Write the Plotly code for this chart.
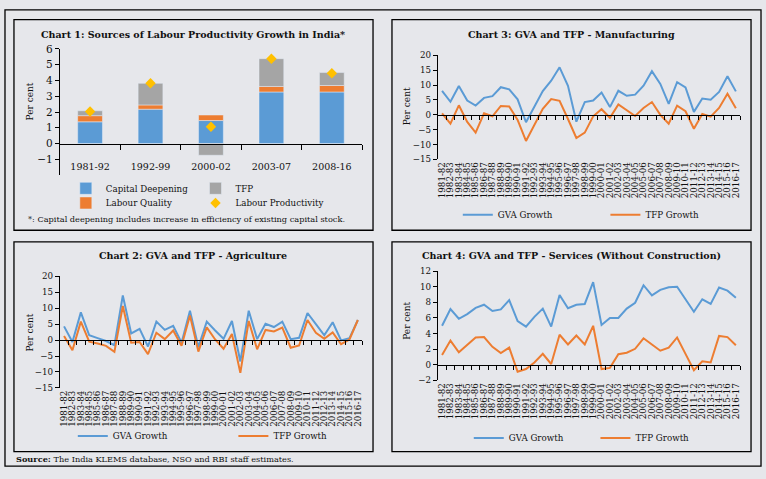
import plotly.graph_objects as go

W, H = 766, 479

# ---------------- data ----------------
periods = ["1981-92", "1992-99", "2000-02", "2003-07", "2008-16"]
capital_deepening = [1.38, 2.18, 1.46, 3.27, 3.27]
labour_quality = [0.39, 0.27, 0.35, 0.35, 0.41]
tfp_contribution = [0.31, 1.37, -0.74, 1.76, 0.82]
labour_productivity = [2.03, 3.82, 1.07, 5.38, 4.46]

years = ["1981-82", "1982-83", "1983-84", "1984-85", "1985-86", "1986-87",
         "1987-88", "1988-89", "1989-90", "1990-91", "1991-92", "1992-93",
         "1993-94", "1994-95", "1995-96", "1996-97", "1997-98", "1998-99",
         "1999-00", "2000-01", "2001-02", "2002-03", "2003-04", "2004-05",
         "2005-06", "2006-07", "2007-08", "2008-09", "2009-10", "2010-11",
         "2011-12", "2012-13", "2013-14", "2014-15", "2015-16", "2016-17"]

agri_gva = [4.3, -0.6, 8.7, 1.5, 0.6, -0.3, -1.6, 14.0, 2.1, 3.5, -2.0, 5.8,
            3.2, 4.5, -0.8, 9.2, -2.2, 5.8, 3.0, 0.4, 6.0, -6.7, 9.2, 0.3,
            5.1, 4.1, 5.8, 0.3, 0.7, 8.5, 5.0, 1.5, 5.6, -0.1, 0.6, 6.3]
agri_tfp = [1.3, -3.2, 5.8, -0.5, -1.1, -1.8, -3.7, 10.7, -0.8, -0.6, -4.4, 2.3,
            0.3, 3.0, -1.8, 7.7, -3.6, 4.0, 0.2, -2.7, 1.9, -10.3, 6.0, -2.9,
            3.2, 2.7, 3.9, -2.4, -1.7, 6.3, 2.3, 0.4, 2.4, -1.3, 0.2, 6.3]

mfg_gva = [8.1, 4.4, 9.7, 4.8, 3.1, 5.7, 6.3, 9.3, 8.6, 5.2, -2.5, 3.0,
           8.0, 11.5, 16.0, 9.8, -2.3, 4.3, 4.8, 7.5, 2.6, 8.1, 6.4, 6.8,
           9.8, 14.7, 10.4, 3.7, 11.0, 9.2, 1.0, 5.5, 5.1, 7.7, 13.0, 7.9]
mfg_tfp = [0.5, -3.0, 3.2, -2.4, -6.0, 0.5, -0.5, 3.0, 2.8, -1.7, -8.8, -3.5,
           2.0, 5.3, 4.7, -1.4, -7.8, -6.0, -0.5, 1.9, -1.0, 3.5, 1.4, -0.4,
           2.3, 4.3, 0.0, -3.0, 3.1, 1.2, -4.7, 0.3, -0.6, 2.3, 7.1, 2.2]

svc_gva = [5.0, 7.15, 5.9, 6.5, 7.3, 7.7, 6.9, 7.1, 8.3, 5.6, 4.9, 6.15,
           7.2, 4.9, 8.95, 7.25, 7.7, 7.8, 10.6, 5.1, 6.0, 6.0, 7.2, 7.95,
           10.2, 8.9, 9.6, 9.95, 10.0, 8.4, 6.8, 8.4, 7.8, 9.9, 9.5, 8.6]
svc_tfp = [1.25, 3.1, 1.6, 2.5, 3.5, 3.55, 2.3, 1.5, 2.2, -0.9, -0.55, 0.3,
           1.4, 0.1, 3.85, 2.6, 3.75, 2.6, 5.0, -0.55, -0.4, 1.35, 1.55, 2.05,
           3.4, 2.6, 1.8, 2.2, 3.5, 1.4, -0.7, 0.45, 0.3, 3.7, 3.55, 2.5]

# ---------------- style ----------------
BG = "#e6e7eb"
BLUE = "#5b9bd5"
ORANGE = "#ed7d31"
GREY = "#a5a5a5"
GOLD = "#ffc000"
FONT = "DejaVu Serif"
TXT = "#111111"


def pxx(p):
    return p / W


def pyy(p):
    return 1 - p / H


fig = go.Figure()
layout = {}
annotations = []
shapes = []

charts = [
    dict(i=1, x0=59, x1=362, ytop=44, ybot=173.5, yr=(-2, 6), dt=1, cats=periods,
         title="Chart 1: Sources of Labour Productivity Growth in India*", tc=(193, 29), pc=(29, 98)),
    dict(i=2, x0=438, x1=741, ytop=50.7, ybot=157.3, yr=(-15, 20), dt=5, cats=years,
         title="Chart 3: GVA and TFP - Manufacturing", tc=(572, 29), pc=(407, 103)),
    dict(i=3, x0=59, x1=362, ytop=277.3, ybot=391.7, yr=(-15, 20), dt=5, cats=years,
         title="Chart 2: GVA and TFP - Agriculture", tc=(193, 256), pc=(29, 335)),
    dict(i=4, x0=438, x1=741, ytop=272, ybot=384, yr=(-2, 12), dt=2, cats=years,
         title="Chart 4: GVA and TFP - Services (Without Construction)", tc=(572, 256), pc=(407, 323)),
]

for c in charts:
    i = c["i"]
    sx = "" if i == 1 else str(i)
    zi = i + 4
    xd = [pxx(c["x0"]), pxx(c["x1"])]
    yd = [pyy(c["ybot"]), pyy(c["ytop"])]
    ymin, ymax = c["yr"]
    n = len(c["cats"])
    is_bar = i == 1
    layout["xaxis" + sx] = dict(
        domain=xd, anchor="y" + sx, type="category",
        categoryorder="array", categoryarray=c["cats"],
        range=[-0.5, n - 0.5], showline=False, showgrid=False, zeroline=False,
        ticks="", tickmode="linear", tick0=0, dtick=1,
        tickangle=0 if is_bar else -90,
        ticklabelposition="inside" if is_bar else "outside",
        tickfont=dict(family=FONT, size=9.5 if is_bar else 8.7, color=TXT),
    )
    layout["yaxis" + sx] = dict(
        domain=yd, anchor="x" + sx, range=[ymin, ymax], dtick=c["dt"],
        showline=True, linecolor="black", linewidth=1.2, ticks="outside",
        ticklen=4, tickcolor="black", tickwidth=1.2, showgrid=False, zeroline=False,
        tickfont=dict(family=FONT, size=10.5 if is_bar else 8.7, color=TXT),
    )
    pos = yd[0] + (0 - ymin) / (ymax - ymin) * (yd[1] - yd[0])
    layout["xaxis" + str(zi)] = dict(
        domain=xd, overlaying="x" + sx, anchor="free", position=pos,
        range=[-0.5, n - 0.5], tickmode="array",
        tickvals=[k - 0.5 for k in range(1, n + 1)],
        showticklabels=False, showline=True, linecolor="black", linewidth=1.2,
        ticks="outside", ticklen=5 if is_bar else 4, tickcolor="black", tickwidth=1.2,
        showgrid=False, zeroline=False,
    )
    fig.add_trace(go.Scatter(x=[None], y=[None], xaxis="x" + str(zi), yaxis="y" + sx,
                             showlegend=False, hoverinfo="skip"))
    annotations.append(dict(text="<b>" + c["title"] + "</b>", x=pxx(c["tc"][0]), y=pyy(c["tc"][1]),
                            xref="paper", yref="paper", showarrow=False, xanchor="center",
                            yanchor="middle", font=dict(family=FONT, size=9.5, color=TXT)))
    annotations.append(dict(text="Per cent", x=pxx(c["pc"][0]), y=pyy(c["pc"][1]), textangle=-90,
                            xref="paper", yref="paper", showarrow=False, xanchor="center",
                            yanchor="middle", font=dict(family=FONT, size=9, color=TXT)))

# ---------------- chart 1 bars ----------------
fig.add_trace(go.Bar(x=periods, y=capital_deepening, name="Capital Deepening", marker_color=BLUE,
                     xaxis="x", yaxis="y", legend="legend"))
fig.add_trace(go.Bar(x=periods, y=labour_quality, name="Labour Quality", marker_color=ORANGE,
                     xaxis="x", yaxis="y", legend="legend2"))
fig.add_trace(go.Bar(x=periods, y=tfp_contribution, name="TFP", marker_color=GREY,
                     xaxis="x", yaxis="y", legend="legend3"))
fig.add_trace(go.Scatter(x=periods, y=labour_productivity, name="Labour Productivity", mode="markers",
                         marker=dict(symbol="diamond", color=GOLD, size=8),
                         xaxis="x", yaxis="y", legend="legend4"))

# ---------------- line charts ----------------
line_sets = [
    ("2", mfg_gva, mfg_tfp, "legend5", "legend6"),
    ("3", agri_gva, agri_tfp, "legend7", "legend8"),
    ("4", svc_gva, svc_tfp, "legend9", "legend10"),
]
for sx, g, t, lg1, lg2 in line_sets:
    fig.add_trace(go.Scatter(x=years, y=g, name="GVA Growth", mode="lines",
                             line=dict(color=BLUE, width=2), xaxis="x" + sx, yaxis="y" + sx, legend=lg1))
    fig.add_trace(go.Scatter(x=years, y=t, name="TFP Growth", mode="lines",
                             line=dict(color=ORANGE, width=2), xaxis="x" + sx, yaxis="y" + sx, legend=lg2))

legend_pos = {
    "legend": (107, 187), "legend2": (107, 202), "legend3": (237, 187), "legend4": (237, 202),
    "legend5": (500, 214), "legend6": (648, 214),
    "legend7": (114, 441), "legend8": (275, 441),
    "legend9": (511, 443), "legend10": (638, 443),
}
for lg, (tx, ty) in legend_pos.items():
    layout[lg] = dict(x=pxx(tx - 42), y=pyy(ty), xanchor="left", yanchor="middle",
                      xref="paper", yref="paper",
                      bgcolor="rgba(0,0,0,0)", borderwidth=0, orientation="h",
                      font=dict(family=FONT, size=8.7, color=TXT))

annotations.append(dict(text="*: Capital deepening includes increase in efficiency of existing capital stock.",
                        x=pxx(25), y=pyy(218), xref="paper", yref="paper", showarrow=False,
                        xanchor="left", yanchor="middle", font=dict(family=FONT, size=8.2, color=TXT)))
annotations.append(dict(text="<b>Source:</b> The India KLEMS database, NSO and RBI staff estimates.",
                        x=pxx(13), y=pyy(465), xref="paper", yref="paper", showarrow=False,
                        xanchor="left", yanchor="middle", font=dict(family=FONT, size=8.2, color=TXT)))

for (a, b, cc, d) in [(13, 14, 373, 230), (392, 14, 752, 230), (13, 242, 373, 457), (392, 242, 752, 457),
                      (4, 4, 762, 472)]:
    shapes.append(dict(type="rect", xref="paper", yref="paper", x0=pxx(a), x1=pxx(cc),
                       y0=pyy(d), y1=pyy(b), line=dict(color="black", width=1.3), fillcolor="rgba(0,0,0,0)",
                       layer="below"))

fig.update_layout(
    width=W, height=H, margin=dict(l=0, r=0, t=0, b=0),
    paper_bgcolor=BG, plot_bgcolor=BG,
    barmode="relative", bargap=0.59,
    annotations=annotations, shapes=shapes, showlegend=True,
    **layout,
)

fig.write_html("out.html")
